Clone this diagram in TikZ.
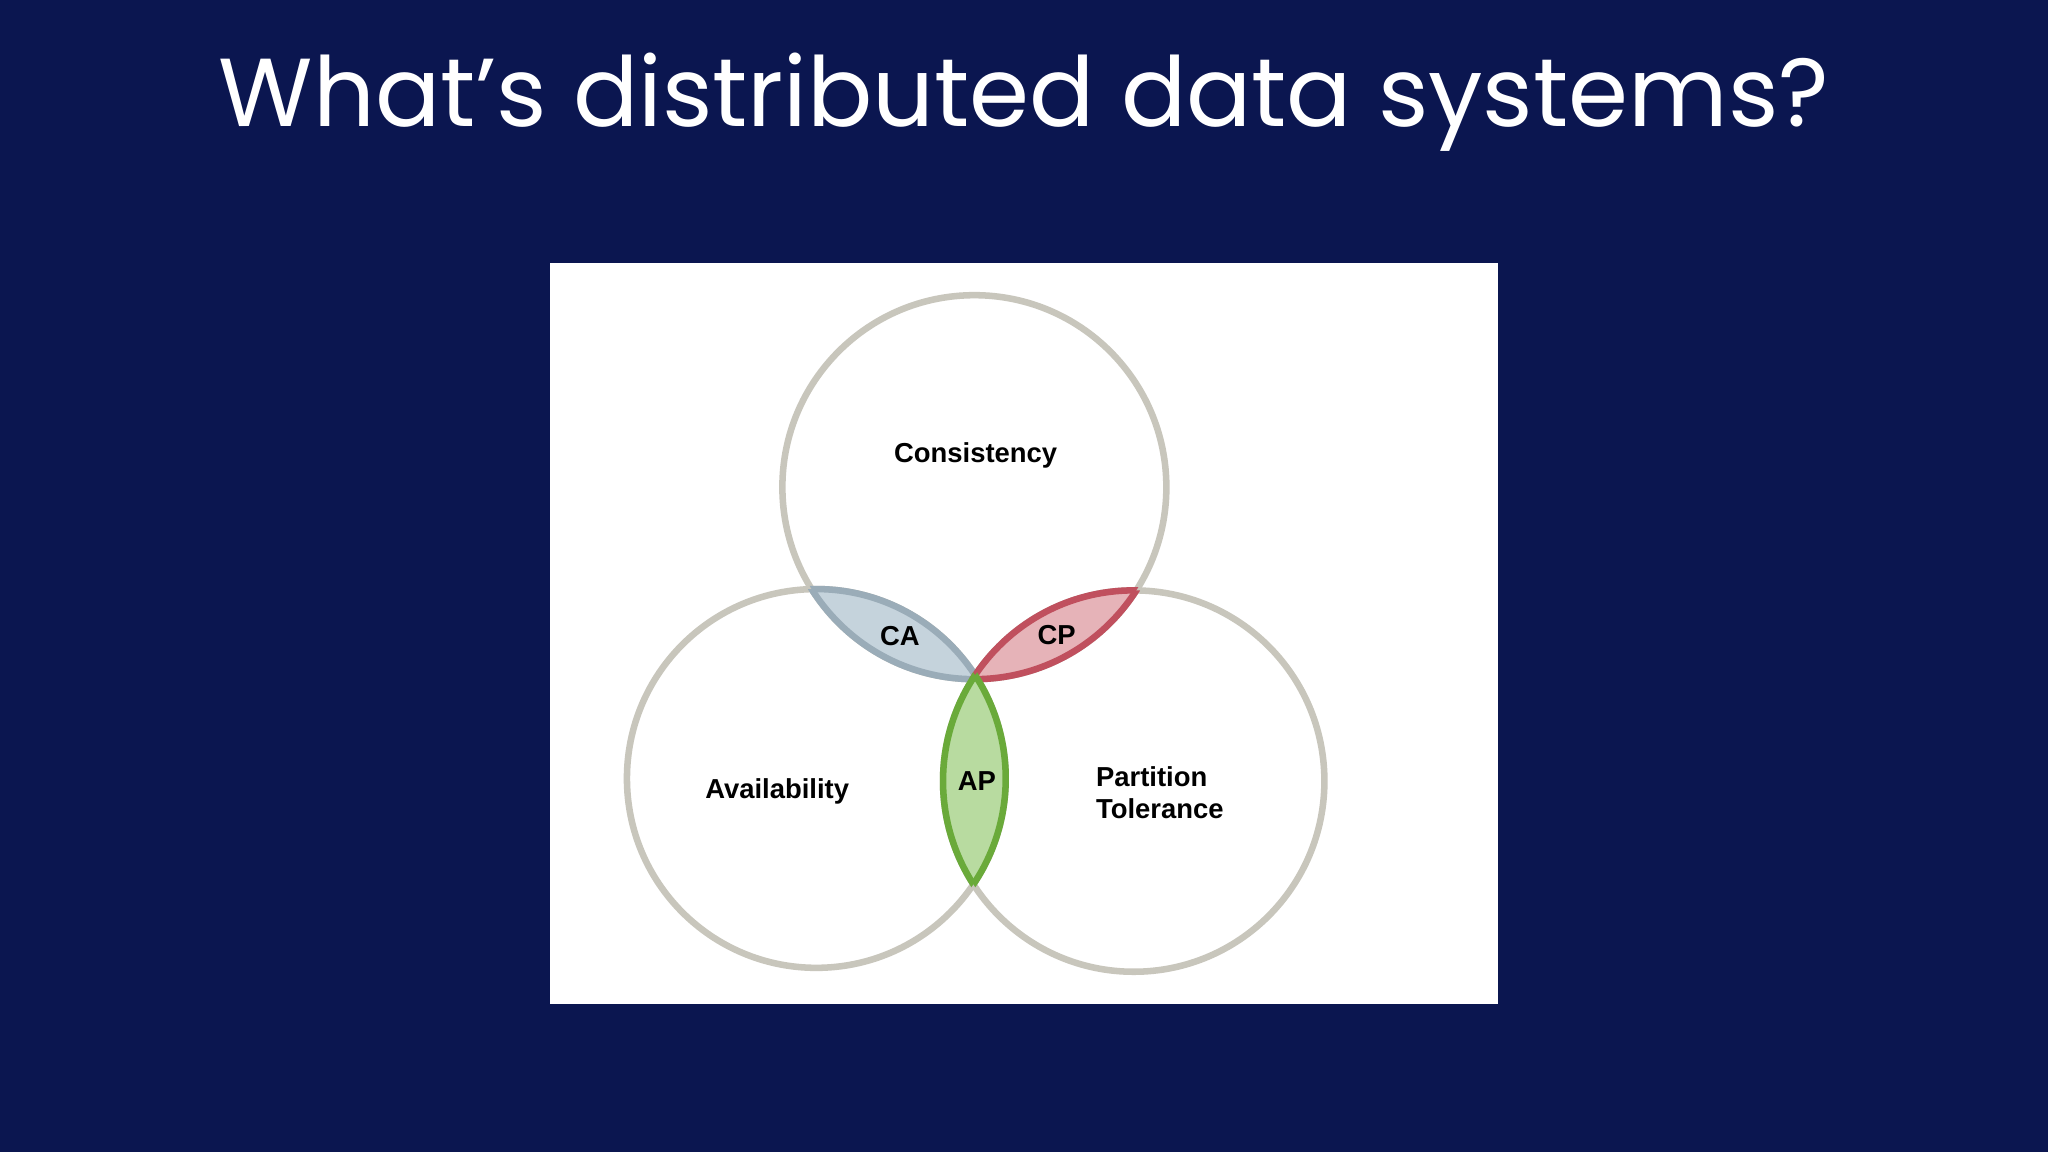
\documentclass[tikz,border=0pt]{standalone}
\usepackage{fontspec}
\setmainfont{Poppins}
\newfontfamily\lab{Liberation Sans}
\definecolor{bg}{HTML}{0B1650}
\definecolor{ring}{HTML}{C8C6BC}
\definecolor{cafill}{HTML}{C5D3DC}\definecolor{cadraw}{HTML}{9AACB8}
\definecolor{cpfill}{HTML}{E6B3B8}\definecolor{cpdraw}{HTML}{C0505E}
\definecolor{apfill}{HTML}{B8DBA0}\definecolor{apdraw}{HTML}{6AAA3A}
\tikzset{lbl/.style={font=\lab\bfseries\fontsize{21}{25}\selectfont,text=black,align=left},
ringst/.style={draw=ring,line width=5pt}}
\begin{document}
\begin{tikzpicture}[x=1pt,y=-1pt]
\fill[bg] (0,0) rectangle (1568,882);
\useasboundingbox (0,0) rectangle (1568,882);
\node[text=white,font=\fontsize{74}{80}\selectfont] (title) at (784,78) {What’s distributed data systems?};
\fill[white] (421,201) rectangle (1147,769);
\def\Ctop{(746,373) circle (147)}
\def\Cleft{(625,596) circle (145)}
\def\Cright{(868,598) circle (146)}
\draw[ringst] \Ctop; \draw[ringst] \Cleft; \draw[ringst] \Cright;
% CA
\begin{scope}\clip \Ctop; \fill[cafill] \Cleft; \draw[cadraw,line width=5pt] \Cleft;\end{scope}
\begin{scope}\clip \Cleft; \draw[cadraw,line width=5pt] \Ctop;\end{scope}
% CP
\begin{scope}\clip \Ctop; \fill[cpfill] \Cright; \draw[cpdraw,line width=5pt] \Cright;\end{scope}
\begin{scope}\clip \Cright; \draw[cpdraw,line width=5pt] \Ctop;\end{scope}
% AP
\begin{scope}\clip \Cleft; \fill[apfill] \Cright; \draw[apdraw,line width=5pt] \Cright;\end{scope}
\begin{scope}\clip \Cright; \draw[apdraw,line width=5pt] \Cleft;\end{scope}
\node[lbl] (c) at (747,349) {Consistency};
\node[lbl] (a) at (595,606) {Availability};
\node[lbl] (p) at (888,607) {Partition\\ Tolerance};
\node[lbl] (ca) at (689,487) {CA};
\node[lbl] (cp) at (809,486) {CP};
\node[lbl] (ap) at (748,598) {AP};
\end{tikzpicture}
\end{document}
